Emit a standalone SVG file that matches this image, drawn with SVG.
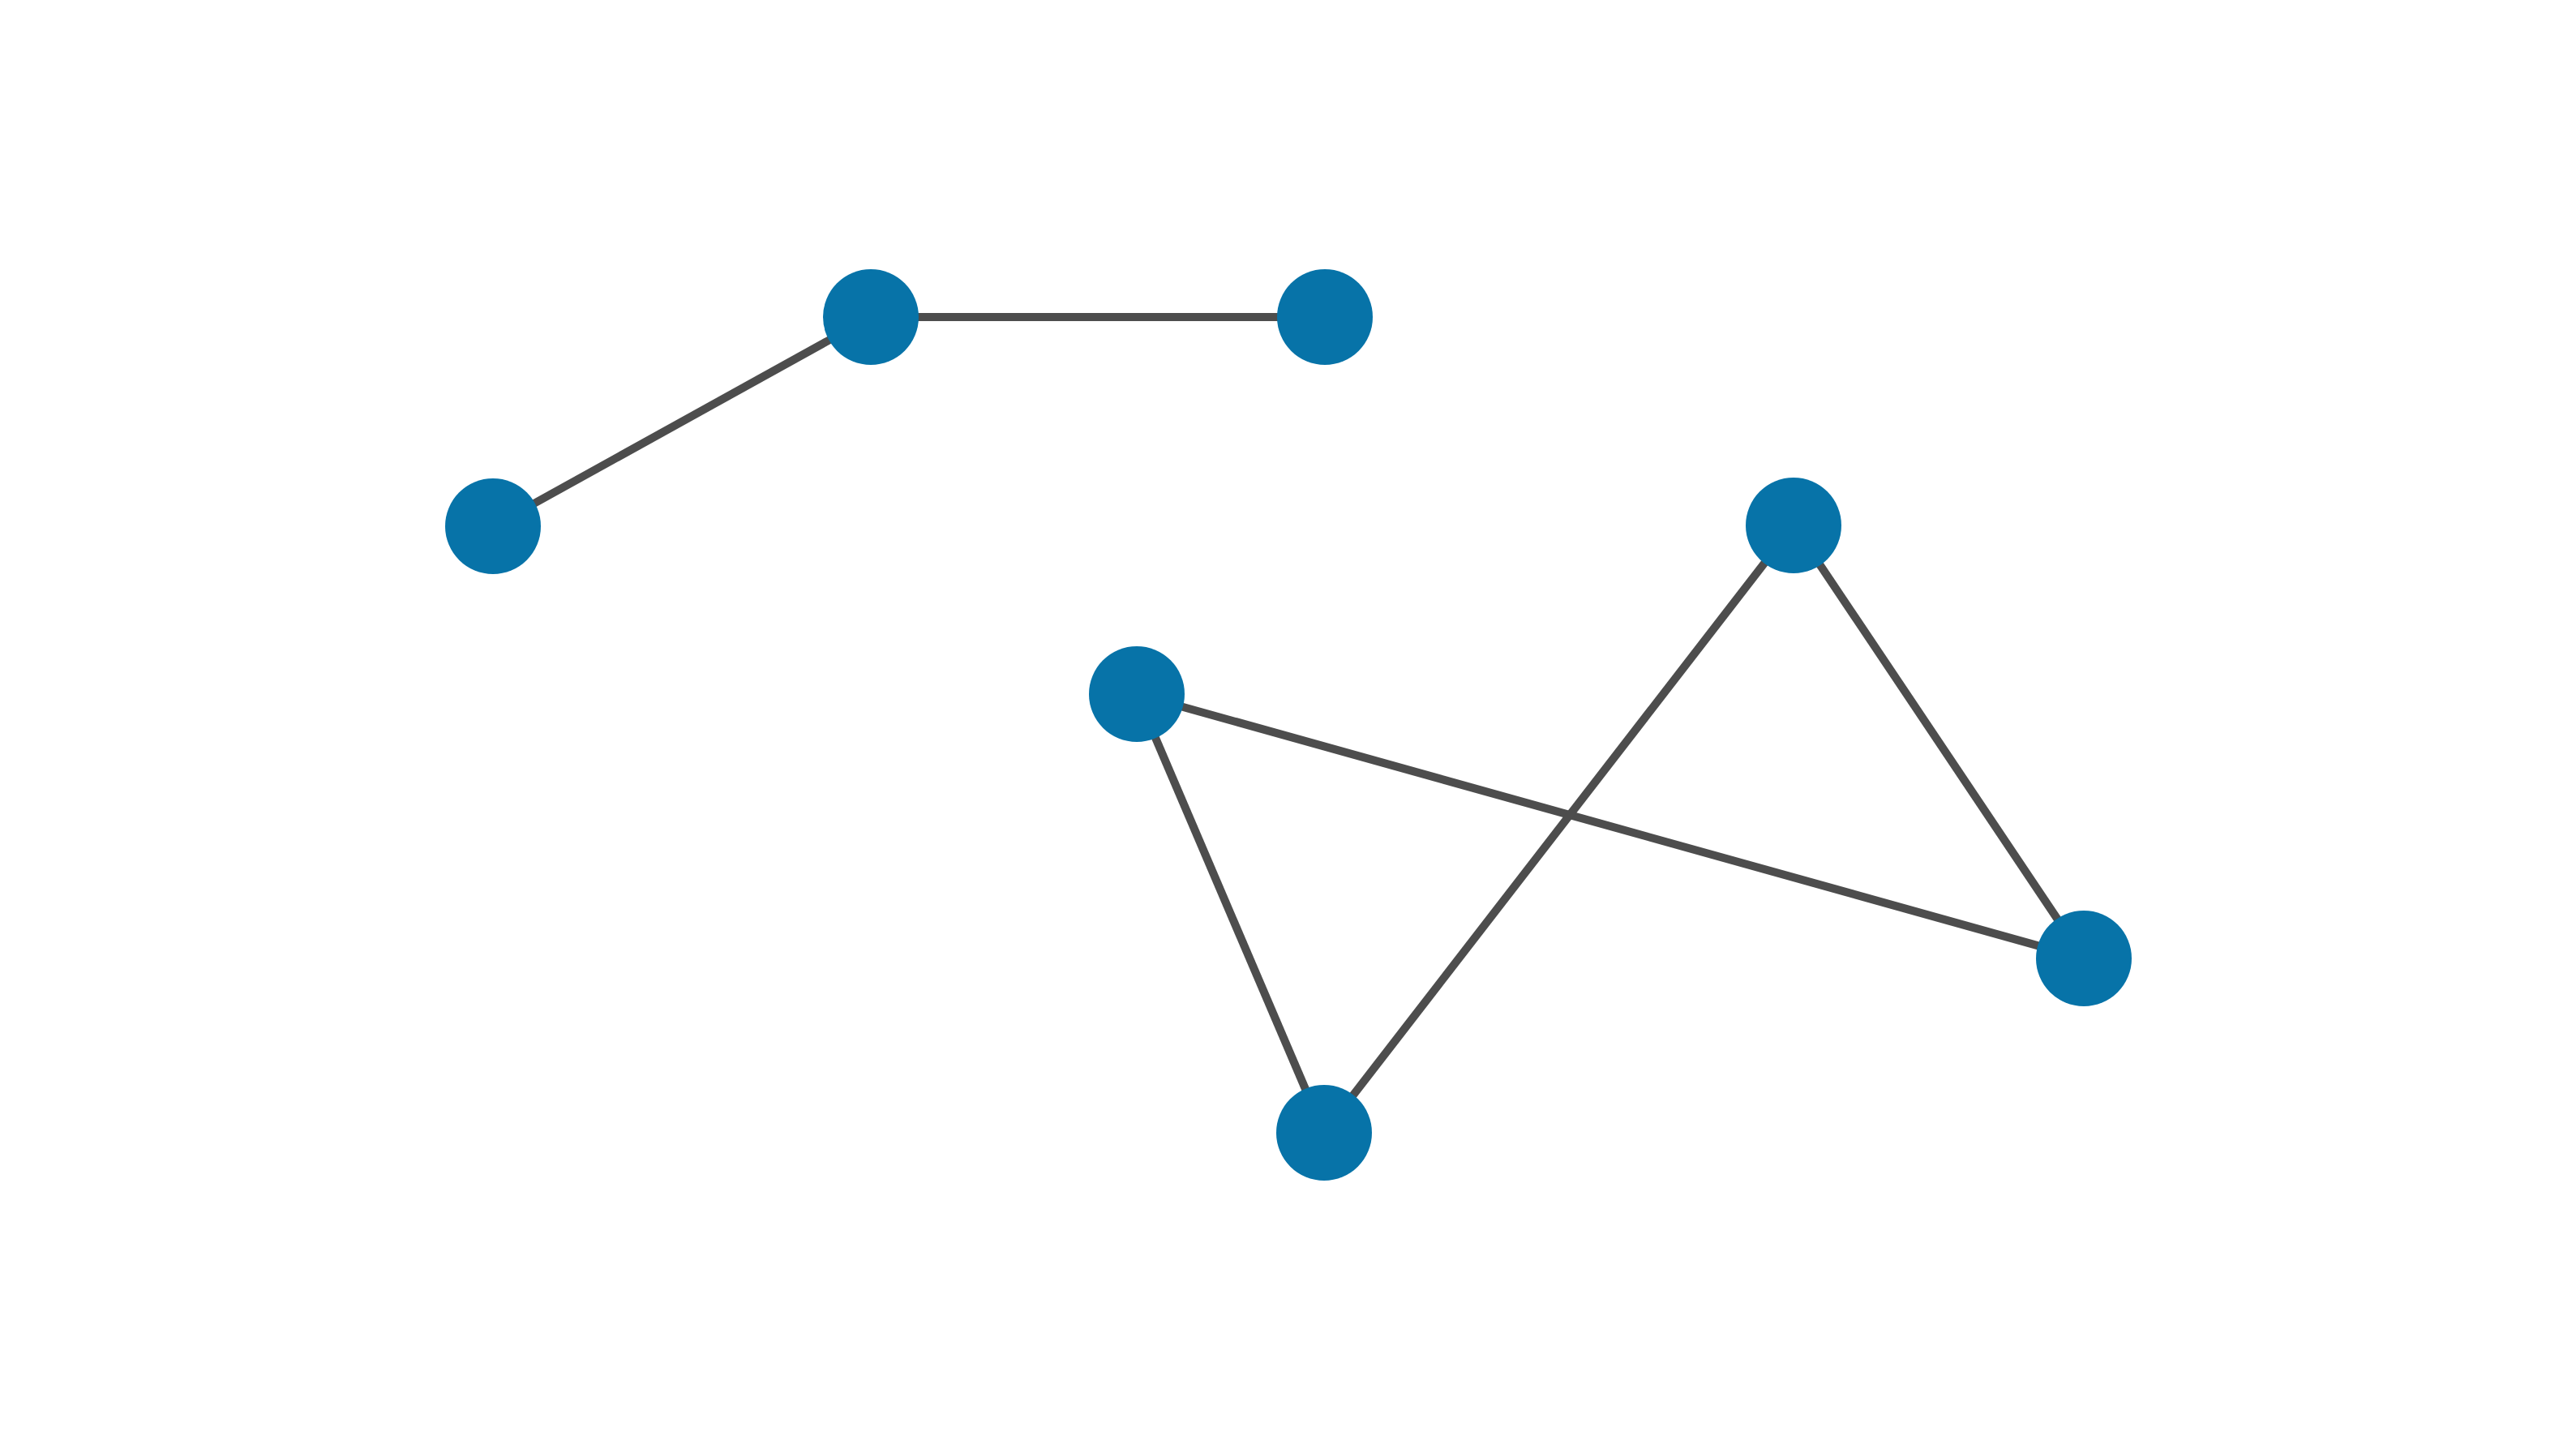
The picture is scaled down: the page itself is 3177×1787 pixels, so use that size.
<svg xmlns="http://www.w3.org/2000/svg" width="3177" height="1787" viewBox="0 0 3177 1787">
<style>
.edge{stroke:#4d4d4d;stroke-width:10;fill:none}
.node{fill:#0773a8}
</style>
<rect width="3177" height="1787" fill="#ffffff"/>
<g id="edges">
<line class="edge" x1="608" y1="649" x2="1074" y2="391"/>
<line class="edge" x1="1074" y1="391" x2="1634" y2="391"/>
<line class="edge" x1="1402" y1="856" x2="2570" y2="1182"/>
<line class="edge" x1="1402" y1="856" x2="1633" y2="1397"/>
<line class="edge" x1="2212" y1="648" x2="1633" y2="1397"/>
<line class="edge" x1="2212" y1="648" x2="2570" y2="1182"/>
</g>
<g id="n1"><circle class="node" cx="608" cy="649" r="59"/></g>
<g id="n2"><circle class="node" cx="1074" cy="391" r="59"/></g>
<g id="n3"><circle class="node" cx="1634" cy="391" r="59"/></g>
<g id="n4"><circle class="node" cx="1402" cy="856" r="59"/></g>
<g id="n5"><circle class="node" cx="2212" cy="648" r="59"/></g>
<g id="n6"><circle class="node" cx="2570" cy="1182" r="59"/></g>
<g id="n7"><circle class="node" cx="1633" cy="1397" r="59"/></g>
</svg>
